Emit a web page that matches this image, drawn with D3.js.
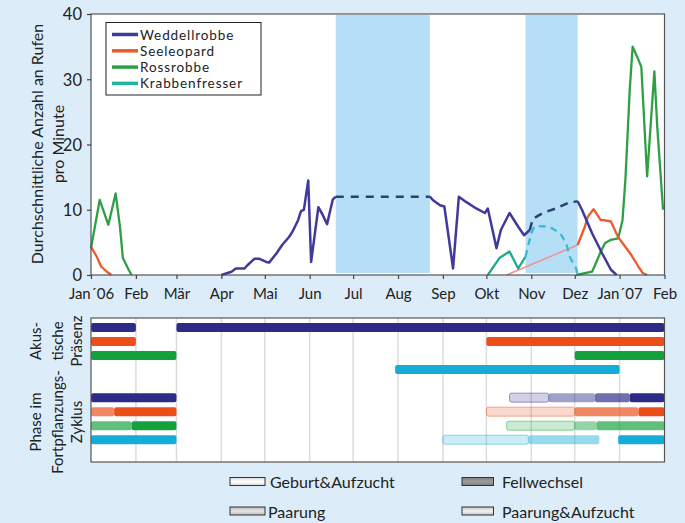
<!DOCTYPE html>
<html><head><meta charset="utf-8">
<script src="https://cdn.jsdelivr.net/npm/d3@7"></script>
<style>
html,body{margin:0;padding:0;background:#dcedf9;}
svg{display:block;font-family:Lato,"Open Sans",sans-serif;}
</style></head>
<body>
<svg id="chart" width="685" height="523"></svg>
<script>
// ---------- DATA ----------
const monthStarts = ["2006-01-01","2006-02-01","2006-03-01","2006-04-01","2006-05-01","2006-06-01","2006-07-01","2006-08-01","2006-09-01","2006-10-01","2006-11-01","2006-12-01","2007-01-01","2007-02-01"];
const monthLabels = ["Jan´06","Feb","Mär","Apr","Mai","Jun","Jul","Aug","Sep","Okt","Nov","Dez","Jan´07","Feb"];
const yTicks = [0,10,20,30,40];
const speciesNames = ["Weddellrobbe","Seeleopard","Rossrobbe","Krabbenfresser"];

// periods without recordings (shaded)
const gapPeriods = [["2006-06-19","2006-08-23"],["2006-10-28","2006-12-03"]];

// Weddellrobbe
const weddellMeasured1 = [["2006-04-01",0],["2006-04-08",0.5],["2006-04-11",1.0],["2006-04-17",1.0],["2006-04-19",1.5],["2006-04-24",2.5],["2006-04-27",2.5],["2006-05-02",2.0],["2006-05-04",1.9],["2006-05-09",3.3],["2006-05-13",4.6],["2006-05-18",5.9],["2006-05-20",6.6],["2006-05-24",8.4],["2006-05-26",9.8],["2006-05-28",10.0],["2006-05-31",14.5],["2006-06-02",2.0],["2006-06-07",10.4],["2006-06-10",9.2],["2006-06-13",7.8],["2006-06-17",11.6],["2006-06-19",12.0]];
const weddellInterp1 = [["2006-06-19",12.0],["2006-08-23",12.0]];
const weddellMeasured2 = [["2006-08-23",12.0],["2006-08-25",11.5],["2006-08-30",10.7],["2006-09-02",10.5],["2006-09-08",1.0],["2006-09-12",12.0],["2006-09-17",11.2],["2006-09-24",10.2],["2006-09-30",9.5],["2006-10-02",10.2],["2006-10-08",4.1],["2006-10-11",6.9],["2006-10-17",9.5],["2006-10-23",7.4],["2006-10-27",6.1],["2006-10-31",6.9]];
const weddellInterp2 = [["2006-10-31",6.9],["2006-11-02",8.6],["2006-11-09",9.5],["2006-11-18",10.2],["2006-11-27",11.1],["2006-12-03",11.3]];
const weddellMeasured3 = [["2006-12-03",11.3],["2006-12-06",10.0],["2006-12-13",6.4],["2006-12-20",3.3],["2006-12-26",0.8],["2006-12-30",0]];

// Seeleopard
const leopardMeasured1 = [["2006-01-01",4.3],["2006-01-05",2.8],["2006-01-08",1.3],["2006-01-12",0.5],["2006-01-15",0]];
const leopardInterp = [["2006-10-15",0],["2006-12-03",4.6]];
const leopardMeasured2 = [["2006-12-03",4.6],["2006-12-08",7.4],["2006-12-10",8.9],["2006-12-14",10.1],["2006-12-19",8.4],["2006-12-21",8.4],["2006-12-26",8.2],["2006-12-31",5.8],["2007-01-04",4.6],["2007-01-09",3.1],["2007-01-14",1.3],["2007-01-17",0.3],["2007-01-20",0]];

// Rossrobbe
const rossMeasured1 = [["2006-01-01",4.1],["2006-01-07",11.5],["2006-01-13",7.7],["2006-01-18",12.5],["2006-01-21",7.4],["2006-01-23",2.6],["2006-01-27",0.8],["2006-01-29",0]];
const rossMeasured2 = [["2006-12-02",0],["2006-12-13",0.5],["2006-12-15",1.5],["2006-12-19",3.6],["2006-12-22",4.9],["2006-12-26",5.4],["2006-12-31",5.6],["2007-01-03",8.4],["2007-01-05",14.6],["2007-01-08",28.4],["2007-01-10",35.0],["2007-01-13",33.5],["2007-01-16",31.9],["2007-01-20",15.1],["2007-01-25",31.2],["2007-01-27",22.7],["2007-01-31",10.0]];

// Krabbenfresser
const crabeaterMeasured = [["2006-10-02",0],["2006-10-10",2.6],["2006-10-17",3.6],["2006-10-23",1.0],["2006-10-28",2.8]];
const crabeaterInterp = [["2006-10-28",2.8],["2006-11-01",6.4],["2006-11-03",7.4],["2006-11-09",7.5],["2006-11-15",7.2],["2006-11-21",6.4],["2006-11-25",4.9],["2006-11-28",2.6],["2006-12-02",1.0],["2006-12-03",0]];

// Acoustic presence [species index, start, end]
const presence = [
  [0,"2006-01-01","2006-02-01"],[0,"2006-03-01","2007-02-01"],
  [1,"2006-01-01","2006-02-01"],[1,"2006-10-01","2007-02-01"],
  [2,"2006-01-01","2006-03-01"],[2,"2006-12-01","2007-02-01"],
  [3,"2006-07-30","2007-01-01"]
];
// Reproductive phases [species index, phase, start, end]
const phaseNames = ["Geburt&Aufzucht","Fellwechsel","Paarung","Paarung&Aufzucht"];
const phases = [
  [0,"Fellwechsel","2006-01-01","2006-03-01"],
  [0,"Geburt&Aufzucht","2006-10-17","2006-11-13"],
  [0,"Paarung&Aufzucht","2006-11-13","2006-12-15"],
  [0,"Paarung","2006-12-15","2007-01-08"],
  [0,"Fellwechsel","2007-01-08","2007-02-01"],
  [1,"Paarung","2006-01-01","2006-01-17"],
  [1,"Fellwechsel","2006-01-17","2006-03-01"],
  [1,"Geburt&Aufzucht","2006-10-01","2006-12-01"],
  [1,"Paarung","2006-12-01","2007-01-14"],
  [1,"Fellwechsel","2007-01-14","2007-02-01"],
  [2,"Paarung","2006-01-01","2006-01-29"],
  [2,"Fellwechsel","2006-01-29","2006-03-01"],
  [2,"Geburt&Aufzucht","2006-10-15","2006-12-01"],
  [2,"Paarung&Aufzucht","2006-12-01","2006-12-16"],
  [2,"Paarung","2006-12-16","2007-02-01"],
  [3,"Fellwechsel","2006-01-01","2006-03-01"],
  [3,"Geburt&Aufzucht","2006-09-01","2006-10-30"],
  [3,"Paarung&Aufzucht","2006-10-30","2006-12-18"],
  [3,"Fellwechsel","2006-12-31","2007-02-01"]
];

// ---------- STYLE ----------
const lineColors = ["#3f3a9c","#ec5a2c","#2ea043","#20a98c"];
const barColors = ["#2d2a88","#ec4e1a","#14a03c","#16acd8"];
const phaseOpacity = {"Geburt&Aufzucht":0.22,"Paarung&Aufzucht":0.45,"Paarung":0.68,"Fellwechsel":1};
const swatchFill = {"Geburt&Aufzucht":"#f2f2f2","Fellwechsel":"#8c8c8c","Paarung":"#cfcfcf","Paarung&Aufzucht":"#d9d9d9"};

const parse = d3.timeParse("%Y-%m-%d");
const svg = d3.select("#chart");

const L = 91, R = 664.5, T = 14, B = 275;
const x = d3.scaleTime().domain([parse("2006-01-01"), parse("2007-02-01")]).range([L, R]);
const y = d3.scaleLinear().domain([0,40]).range([B, T]);

// plot background
svg.append("rect").attr("x",L).attr("y",T).attr("width",R-L).attr("height",B-T).attr("fill","#fff");

// shaded gaps
svg.selectAll(".gap").data(gapPeriods).join("rect")
  .attr("x",d=>x(parse(d[0]))).attr("width",d=>x(parse(d[1]))-x(parse(d[0])))
  .attr("y",T+1).attr("height",B-T-3).attr("fill","#b4dff6");

const line = d3.line().x(d=>x(parse(d[0]))).y(d=>y(d[1])).curve(d3.curveLinear);
function drawLine(data, color, width, dash){
  svg.append("path").datum(data).attr("d",line).attr("fill","none")
    .attr("stroke",color).attr("stroke-width",width).attr("stroke-linejoin","round")
    .attr("stroke-dasharray",dash||null);
}
drawLine(leopardInterp,"#f29090",1.5);
drawLine(crabeaterMeasured,lineColors[3],2.3);
drawLine(crabeaterInterp,"#36bcd2",2.3,"7,5");
drawLine(rossMeasured1,lineColors[2],2.3);
drawLine(rossMeasured2,lineColors[2],2.3);
drawLine(leopardMeasured1,lineColors[1],2.3);
drawLine(leopardMeasured2,lineColors[1],2.3);
drawLine(weddellMeasured1,lineColors[0],2.5);
drawLine(weddellInterp1,"#2f3f6f",2.5,"8,7");
drawLine(weddellMeasured2,lineColors[0],2.5);
drawLine(weddellInterp2,"#2f3f6f",2.5,"8,6");
drawLine(weddellMeasured3,lineColors[0],2.5);

// frame
svg.append("rect").attr("x",L).attr("y",T).attr("width",R-L).attr("height",B-T)
  .attr("fill","none").attr("stroke","#555").attr("stroke-width",1.2);

// axes
const monthDates = monthStarts.map(parse);
const xAxis = svg.append("g").attr("transform",`translate(0,${B})`)
  .call(d3.axisBottom(x).tickValues(monthDates).tickFormat((d,i)=>monthLabels[i]).tickSize(4).tickPadding(9));
const yAxis = svg.append("g").attr("transform",`translate(${L},0)`)
  .call(d3.axisLeft(y).tickValues(yTicks).tickSize(4).tickPadding(5));
[xAxis,yAxis].forEach(a=>{
  a.select(".domain").remove();
  a.selectAll(".tick line").attr("stroke","#444").attr("stroke-width",1.2);
  a.selectAll("text").attr("fill","#222").style("font-family","Lato, sans-serif");
});
xAxis.selectAll("text").style("font-size","15px");
yAxis.selectAll("text").style("font-size","16.5px").attr("dy","0.35em");

// y title
const yTitle = ["Durchschnittliche Anzahl an Rufen","pro Minute"];
svg.selectAll(".ytitle").data(yTitle).join("text")
  .attr("transform",(d,i)=>`translate(${i?57:36},144) rotate(-90)`)
  .attr("text-anchor","middle").attr("dominant-baseline","central")
  .style("font-size","16px").attr("fill","#222").text(d=>d);

// legend
const lg = svg.append("g");
lg.append("rect").attr("x",106).attr("y",22.5).attr("width",155).attr("height",72.5)
  .attr("fill","#fff").attr("stroke","#222").attr("stroke-width",1);
const lgRows = lg.selectAll(".lr").data(speciesNames).join("g")
  .attr("transform",(d,i)=>`translate(0,${34.5+i*16.3})`);
lgRows.append("line").attr("x1",112).attr("x2",138).attr("y1",0).attr("y2",0)
  .attr("stroke",(d,i)=>i===3?"#1fb3a0":lineColors[i]).attr("stroke-width",3.5);
lgRows.append("text").attr("x",140).attr("y",0).attr("dominant-baseline","central")
  .style("font-size","13.5px").style("letter-spacing","0.9px").attr("fill","#222").text(d=>d);

// ---------- BOTTOM PANEL ----------
const BT = 318, BB = 462;
svg.append("rect").attr("x",L).attr("y",BT).attr("width",R-L).attr("height",BB-BT).attr("fill","#fff");
svg.selectAll(".grid").data(monthDates.slice(1,-1)).join("line")
  .attr("x1",d=>x(d)).attr("x2",d=>x(d)).attr("y1",BT).attr("y2",BB)
  .attr("stroke","#dcdcdc").attr("stroke-width",1.5);

const rowKeys = ["a0","a1","a2","a3","gap","p0","p1","p2","p3"];
const row = d3.scalePoint().domain(rowKeys).range([327.5,439.7]);
const bh = 9;

svg.selectAll(".pres").data(presence).join("rect")
  .attr("x",d=>x(parse(d[1]))).attr("width",d=>x(parse(d[2]))-x(parse(d[1])))
  .attr("y",d=>row("a"+d[0])-bh/2).attr("height",bh).attr("rx",2)
  .attr("fill",d=>barColors[d[0]]);

const ph = svg.selectAll(".ph").data(phases).join("g");
ph.append("rect")
  .attr("x",d=>x(parse(d[2]))).attr("width",d=>x(parse(d[3]))-x(parse(d[2])))
  .attr("y",d=>row("p"+d[0])-bh/2).attr("height",bh).attr("rx",2)
  .attr("fill",d=>barColors[d[0]]).attr("fill-opacity",d=>phaseOpacity[d[1]])
  .attr("stroke",d=>d[1]==="Geburt&Aufzucht"?barColors[d[0]]:"none")
  .attr("stroke-opacity",0.45).attr("stroke-width",1);

svg.append("rect").attr("x",L).attr("y",BT).attr("width",R-L).attr("height",BB-BT)
  .attr("fill","none").attr("stroke","#555").attr("stroke-width",1.2);

// bottom panel labels
const lab1 = ["Akus-","tische","Präsenz"], lab2 = ["Phase im","Fortpflanzungs-","Zyklus"];
const labX = [35,56.5,76];
svg.selectAll(".l1").data(lab1).join("text")
  .attr("transform",(d,i)=>`translate(${labX[i]},341) rotate(-90)`)
  .attr("text-anchor","middle").attr("dominant-baseline","central")
  .style("font-size","15px").attr("fill","#222").text(d=>d);
svg.selectAll(".l2").data(lab2).join("text")
  .attr("transform",(d,i)=>`translate(${labX[i]},422) rotate(-90)`)
  .attr("text-anchor","middle").attr("dominant-baseline","central")
  .style("font-size","15px").attr("fill","#222").text(d=>d);

// phase legend
const plPos = [[230,481.5],[462,481.5],[230,511],[462,511]];
const defs = svg.append("defs");
phaseNames.forEach((p,i)=>{
  const g = defs.append("linearGradient").attr("id","sw"+i).attr("x1",0).attr("x2",0).attr("y1",0).attr("y2",1);
  g.append("stop").attr("offset","0%").attr("stop-color",d3.color(swatchFill[p]).darker(0.3));
  g.append("stop").attr("offset","50%").attr("stop-color",d3.color(swatchFill[p]).brighter(0.3));
  g.append("stop").attr("offset","100%").attr("stop-color",d3.color(swatchFill[p]).darker(0.3));
});
const pl = svg.selectAll(".pl").data(phaseNames).join("g")
  .attr("transform",(d,i)=>`translate(${plPos[i][0]},${plPos[i][1]})`);
pl.append("rect").attr("x",0).attr("y",-4).attr("width",(d,i)=>i%2?31.5:35).attr("height",8)
  .attr("fill",(d,i)=>`url(#sw${i})`).attr("stroke","#333").attr("stroke-width",1);
pl.append("text").attr("x",(d,i)=>i===2?38:40).attr("y",0).attr("dominant-baseline","central")
  .style("font-size","16px").attr("fill","#222").text(d=>d);
</script>
</body></html>
